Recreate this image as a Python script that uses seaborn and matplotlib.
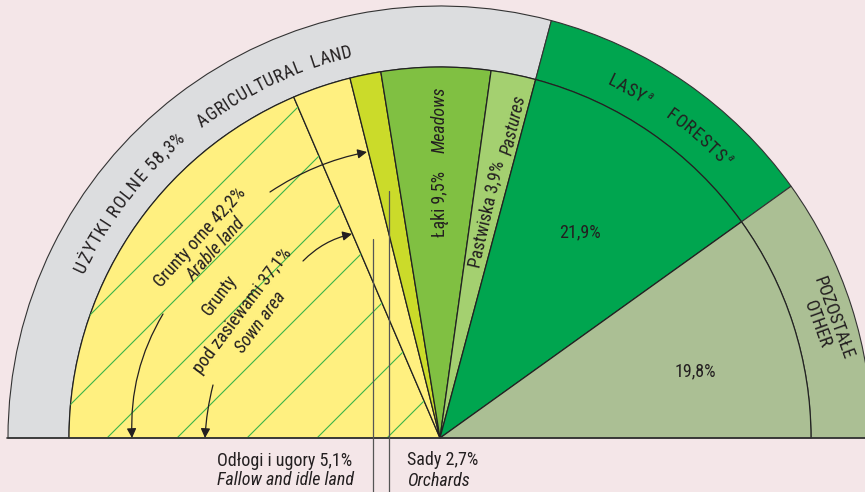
"""
Półkole: struktura użytkowania gruntów (odtworzenie wykresu)
"""

import numpy as np
import matplotlib
matplotlib.use("Agg")
import matplotlib.pyplot as plt
import seaborn as sns

# --- dane ---
outer_labels = ["UŻYTKI ROLNE", "LASY", "POZOSTAŁE"]
outer_values = [58.3, 21.9, 19.8]
outer_colors = ["#dcdddf", "#00a54f", "#abbf94"]

inner_labels = ["Grunty pod zasiewami", "Odłogi i ugory", "Sady", "Łąki",
                "Pastwiska", "Lasy", "Pozostałe"]
inner_values = [37.1, 5.1, 2.7, 9.5, 3.9, 21.9, 19.8]
inner_colors = ["#fff080", "#fff080", "#cbdb2a", "#80c042", "#a4d070",
                "#00a54f", "#abbf94"]

arable_value = 42.2

BG = "#f4e6e8"
INK = "#231f20"
R_OUT = 432
R_IN = 371

sns.set_theme(style="white", rc={"figure.facecolor": BG, "axes.facecolor": BG})
plt.rcParams["font.family"] = ["Roboto Condensed", "Archivo Narrow",
                               "Liberation Sans", "DejaVu Sans"]

fig = plt.figure(figsize=(8.65, 4.92), dpi=100)
ax = fig.add_axes([0, 0, 1, 1])

# pierścień zewnętrzny + wycinki wewnętrzne (połowa koła, druga połowa niewidoczna)
w_out, _ = ax.pie(outer_values + [sum(outer_values)], radius=R_OUT,
                  startangle=180, counterclock=False,
                  colors=outer_colors + ["none"],
                  wedgeprops=dict(width=R_OUT - R_IN, edgecolor="#333333", linewidth=0.8))
w_in, _ = ax.pie(inner_values + [sum(inner_values)], radius=R_IN,
                 startangle=180, counterclock=False,
                 colors=inner_colors + ["none"],
                 wedgeprops=dict(edgecolor="#222222", linewidth=0.9))
w_out[-1].set_visible(False)
w_in[-1].set_visible(False)

# kreskowanie obszaru zasiewów
for c in np.arange(-333 - 70 * 4, 80, 70):
    xs = np.array([-R_OUT, R_OUT])
    ln, = ax.plot(xs, xs - c, color="#3cb44a", lw=0.8, zorder=1.5)
    ln.set_clip_path(w_in[0])

# linia podstawy
ax.plot([-R_OUT - 1, R_OUT], [0, 0], color="#333333", lw=1.2, zorder=3)

# linie odniesienia do odłogów i sadów
for wedge, rr in [(w_in[1], 210), (w_in[2], 252)]:
    mid = np.radians((wedge.theta1 + wedge.theta2) / 2)
    x0 = rr * np.cos(mid)
    ax.plot([x0, x0], [rr * np.sin(mid), -60], color="#555555", lw=0.9, zorder=3)


def measure(s, size, **kw):
    r = fig.canvas.get_renderer()
    t = ax.text(0, 0, s, fontsize=size, **kw)
    w = t.get_window_extent(r).width
    t.remove()
    return w


def arc_text(s, r, a0, a1, size, **kw):
    # tekst wzdłuż łuku, od kąta a0 do a1 (zgodnie z ruchem wskazówek)
    widths = []
    for ch in s:
        if ch == " ":
            widths.append(measure("a a", size, **kw) - measure("aa", size, **kw))
        else:
            widths.append(measure(ch, size, **kw))
    span = np.radians(a0 - a1) * r
    k = span / sum(widths)
    pos = 0.0
    for ch, w in zip(s, widths):
        th = np.radians(a0) - (pos + w * k / 2) / r
        if ch != " ":
            ax.text(r * np.cos(th), r * np.sin(th), ch, fontsize=size,
                    rotation=np.degrees(th) - 90, rotation_mode="anchor",
                    ha="center", va="baseline", color=INK, zorder=5, **kw)
        pos += w * k


def pct(v):
    return f"{v:.1f}%".replace(".", ",")


FS = 13
arc_text(f"{outer_labels[0]} {pct(outer_values[0])}", 392, 155.4, 130.3, FS)
arc_text("AGRICULTURAL  LAND", 391, 127.6, 102.8, FS)
arc_text(outer_labels[1], 391, 64.8, 59.1, FS)
arc_text("a", 399, 58.9, 58.0, 8, style="italic")
arc_text("FORESTS", 392, 55.0, 44.7, FS)
arc_text("a", 401, 44.4, 43.4, 8, style="italic")

ax.text(393, 120, "POZOSTAŁE", fontsize=FS, rotation=-70, rotation_mode="anchor",
        ha="center", va="center", color=INK)
ax.text(377, 113, "OTHER", fontsize=FS, rotation=-70, rotation_mode="anchor",
        ha="center", va="center", color=INK)

tkw = dict(fontsize=FS, rotation_mode="anchor", ha="center", va="center", color=INK, zorder=5)
ax.text(0, 234, f"Łąki {pct(inner_values[3])}", rotation=90, **tkw)
ax.text(0, 318, "Meadows", rotation=90, style="italic", **tkw)
ax.text(47, 224, f"Pastwiska {pct(inner_values[4])}", rotation=77, **tkw)
ax.text(74, 313, "Pastures", rotation=77, style="italic", **tkw)
ax.text(140, 206, pct(inner_values[5]), **tkw)
ax.text(255, 67, pct(inner_values[6]), **tkw)

ax.text(-240, 200, f"Grunty orne {pct(arable_value)}", rotation=48, **tkw)
ax.text(-224, 188, "Arable land", rotation=48, style="italic", **tkw)
ax.text(-220, 143, "Grunty", rotation=53, **tkw)
ax.text(-197, 127, f"pod zasiewami {pct(inner_values[0])}", rotation=53, **tkw)
ax.text(-179, 116, "Sown area", rotation=53, style="italic", **tkw)

akw = dict(arrowstyle="-|>", color=INK, lw=0.9, mutation_scale=14, shrinkA=0, shrinkB=0)
ax.annotate("", xy=(-73, 286), xytext=(-170, 246),
            arrowprops=dict(connectionstyle="arc3,rad=-0.1", **akw))
ax.annotate("", xy=(-308, 0), xytext=(-277, 124),
            arrowprops=dict(connectionstyle="arc3,rad=0.15", **akw))
ax.annotate("", xy=(-88, 204), xytext=(-137, 177),
            arrowprops=dict(connectionstyle="arc3,rad=-0.15", **akw))
ax.annotate("", xy=(-235, 0), xytext=(-227, 53),
            arrowprops=dict(connectionstyle="arc3,rad=0.05", **akw))

# podpisy pod wykresem
ax.text(-88, -23, f"{inner_labels[1]} {pct(inner_values[1])}", fontsize=FS,
        ha="right", va="center", color=INK)
ax.text(-86, -42, "Fallow and idle land", fontsize=FS, style="italic",
        ha="right", va="center", color=INK)
ax.text(-33, -22, f"{inner_labels[2]} {pct(inner_values[2])}", fontsize=FS,
        ha="left", va="center", color=INK)
ax.text(-33, -43, "Orchards", fontsize=FS, style="italic",
        ha="left", va="center", color=INK)

ax.set_xlim(-440, 425)
ax.set_ylim(-54, 438)
ax.set_aspect("equal")
ax.axis("off")

fig.savefig("out.png", dpi=100, facecolor=BG)
